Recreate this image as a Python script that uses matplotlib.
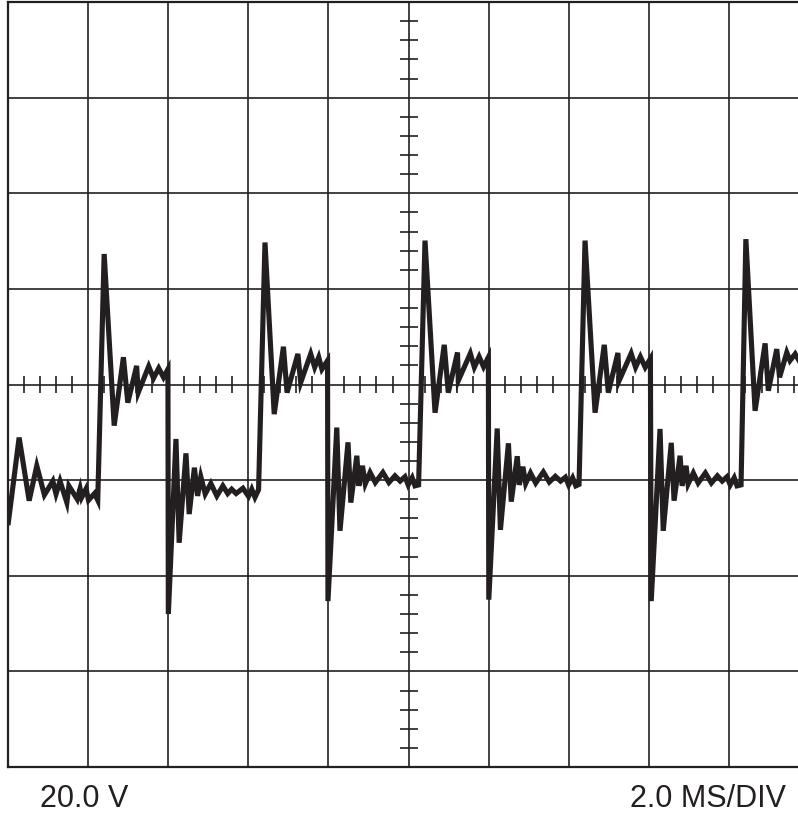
import numpy as np
import matplotlib
matplotlib.use("Agg")
import matplotlib.pyplot as plt

# ---- data (time in ms, voltage in V) ----
t_start = [0.02, 0.29, 0.54, 0.73, 0.92, 1.13, 1.21, 1.31, 1.48, 1.53, 1.74, 1.81, 1.85, 1.96, 2.02, 2.17, 2.25]
v_start = [-28.9, -11.1, -24.3, -17.0, -23.1, -20.2, -22.9, -20.2, -24.7, -21.2, -24.0, -21.8, -23.6, -21.8, -24.2, -22.8, -24.2]

t_c1 = [2.41, 2.66, 2.89, 3.00, 3.22, 3.26, 3.52, 3.64, 3.77, 3.89, 4.00,
        4.01, 4.20, 4.28, 4.45, 4.53, 4.66, 4.74, 4.82, 4.93, 5.07, 5.22, 5.37, 5.49, 5.59, 5.70, 5.87, 6.01, 6.09, 6.17, 6.26]
v_c1 = [27.3, -8.6, 5.7, -3.8, 3.9, -1.7, 3.8, 1.3, 3.4, 1.5, 3.2,
        -48.0, -11.4, -33.1, -14.4, -27.1, -17.4, -23.3, -19.3, -22.9, -20.7, -23.3, -21.2, -22.8, -21.9, -22.8, -21.7, -23.4, -21.9, -23.6, -22.0]

t_c2 = [6.42, 6.65, 6.88, 6.97, 7.24, 7.31, 7.56, 7.66, 7.76, 7.84, 7.98,
        7.99, 8.21, 8.29, 8.49, 8.56, 8.71, 8.76, 8.85, 8.92, 9.04, 9.17, 9.36, 9.51, 9.66, 9.79, 9.91, 9.99, 10.09, 10.16, 10.25]
v_c2 = [29.7, -6.2, 7.9, -1.7, 6.4, 0.4, 6.4, 3.6, 5.7, 3.2, 5.0,
        -45.3, -9.0, -30.6, -12.1, -24.7, -14.9, -21.2, -17.0, -20.8, -18.4, -20.5, -18.4, -20.5, -19.1, -20.2, -19.3, -21.0, -19.5, -21.2, -21.0]

t_c3 = [10.41, 10.66, 10.89, 10.99, 11.22, 11.24, 11.54, 11.64, 11.76, 11.87, 11.99,
        12.00, 12.21, 12.29, 12.49, 12.56, 12.71, 12.76, 12.85, 12.92, 13.04, 13.17, 13.36, 13.51, 13.66, 13.79, 13.91, 13.99, 14.09, 14.17, 14.25]
v_c3 = [30.1, -5.9, 8.3, -1.7, 6.7, 0.8, 6.5, 3.6, 5.8, 3.7, 5.7,
        -45.0, -9.2, -30.4, -12.3, -24.5, -15.0, -21.0, -17.2, -20.7, -18.5, -20.6, -18.3, -20.4, -19.2, -20.2, -19.4, -21.0, -19.5, -21.2, -20.9]

t_c4 = [14.40, 14.65, 14.88, 14.98, 15.22, 15.25, 15.55, 15.66, 15.78, 15.90, 16.03,
        16.05, 16.27, 16.35, 16.55, 16.62, 16.77, 16.82, 16.92, 16.97, 17.10, 17.22, 17.40, 17.55, 17.70, 17.82, 17.94, 18.02, 18.12, 18.19, 18.29]
v_c4 = [30.1, -5.9, 8.3, -1.7, 6.6, 0.8, 6.5, 3.6, 5.8, 3.6, 5.4,
        -45.3, -9.3, -30.6, -12.2, -24.3, -14.9, -21.2, -17.0, -20.8, -18.5, -20.6, -18.5, -20.6, -19.1, -20.2, -19.3, -21.0, -19.5, -21.2, -21.0]

t_c5 = [18.41, 18.64, 18.89, 18.97, 19.18, 19.25, 19.43, 19.51, 19.64, 19.77]
v_c5 = [30.4, -5.5, 8.6, -1.3, 7.4, 1.5, 6.7, 5.0, 6.4, 4.5]

volt_label = "20.0 V"
time_label = "2.0 MS/DIV"

time_ms = t_start + t_c1 + t_c2 + t_c3 + t_c4 + t_c5
volts = v_start + v_c1 + v_c2 + v_c3 + v_c4 + v_c5

# ---- style ----
INK = "#231f20"
W, H = 798, 817
fig = plt.figure(figsize=(W / 100, H / 100), dpi=100)
left_px, right_px, top_px, bottom_px = 7.5, 798, 2.0, 767.0
ax = fig.add_axes([left_px / W, 1 - bottom_px / H, (right_px - left_px) / W, (bottom_px - top_px) / H])

t_div, v_div = 2.0, 20.0
xmax = 19.71  # right edge of the screen is cropped
ax.set_xlim(0, xmax)
ax.set_ylim(-4 * v_div, 4 * v_div)

# grid
for gx in np.arange(t_div, xmax, t_div):
    ax.axvline(gx, color=INK, lw=1.2, zorder=1)
for gy in np.arange(-3 * v_div, 4 * v_div, v_div):
    ax.axhline(gy, color=INK, lw=1.2, zorder=1)

# centre axes minor ticks
px_per_v = (bottom_px - top_px) / (8 * v_div)
px_per_ms = 80.2 / t_div
hl = 8.5 / px_per_v
for tx in np.arange(0.4, xmax, 0.4):
    if abs(tx / t_div - round(tx / t_div)) > 1e-6:
        ax.plot([tx, tx], [-hl, hl], color=INK, lw=1.2, zorder=1, solid_capstyle="butt")
vl = 9.0 / px_per_ms
cx = 5 * t_div
for vy in np.arange(-4 * v_div + 4, 4 * v_div, 4):
    if abs(vy / v_div - round(vy / v_div)) > 1e-6:
        ax.plot([cx - vl, cx + vl], [vy, vy], color=INK, lw=1.2, zorder=1, solid_capstyle="butt")

# trace
ax.plot(time_ms, volts, color=INK, lw=3.7, zorder=3, solid_joinstyle="miter", clip_on=True)

for s in ["top", "left", "bottom"]:
    ax.spines[s].set_color(INK)
    ax.spines[s].set_linewidth(1.6)
ax.spines["right"].set_visible(False)
ax.set_xticks([])
ax.set_yticks([])

fig.text(40 / W, 1 - 799 / H, volt_label, fontsize=22, family="Liberation Sans", color=INK, ha="left", va="center")
fig.text(786 / W, 1 - 799 / H, time_label, fontsize=22, family="Liberation Sans", color=INK, ha="right", va="center")

fig.savefig("out.png", dpi=100)
